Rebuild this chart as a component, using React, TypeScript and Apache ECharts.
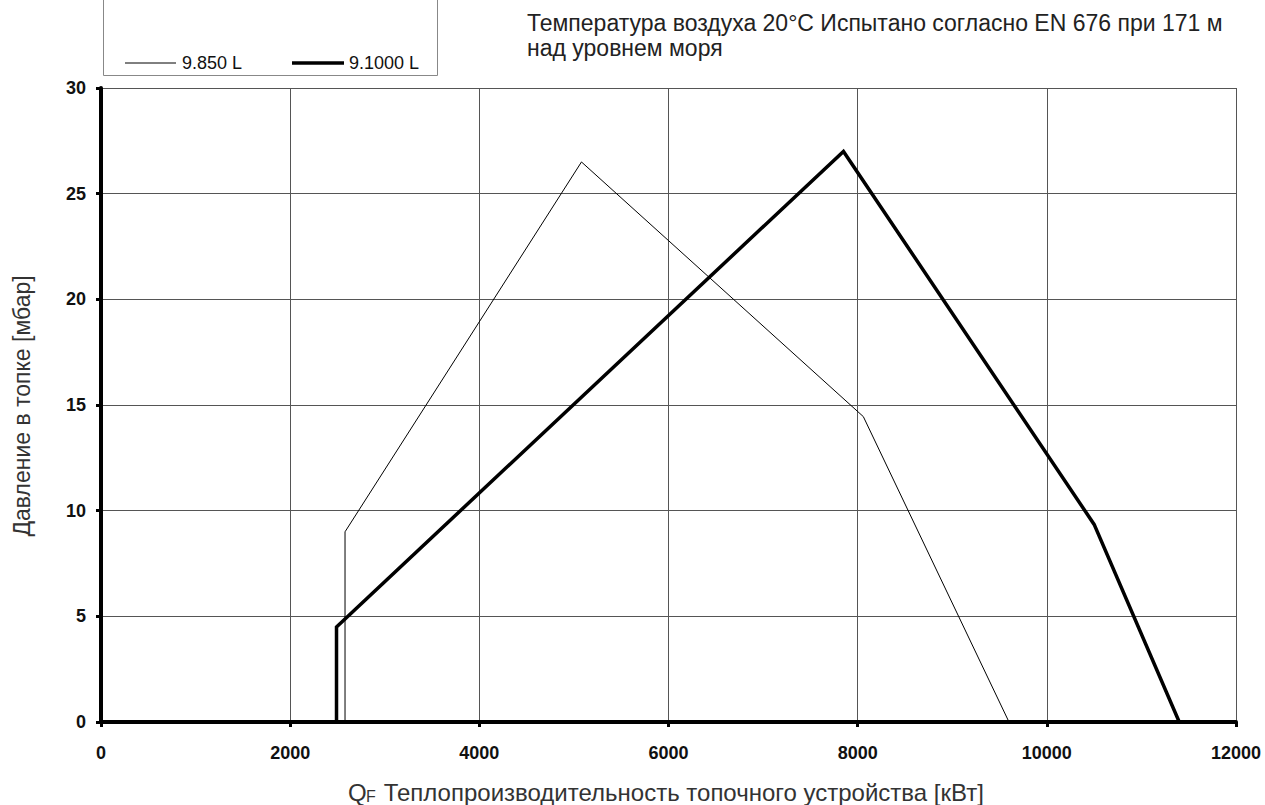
import React, { useEffect, useRef } from "react";
import * as echarts from "echarts";

const seriesNames = ["9.850 L", "9.1000 L"];
const thinX = [2580, 2580, 5080, 8060, 9600];
const thinY = [0, 9.0, 26.5, 14.45, 0];
const thickX = [2490, 2490, 7850, 10500, 11400];
const thickY = [0, 4.5, 27.0, 9.35, 0];
const xTicks = [0, 2000, 4000, 6000, 8000, 10000, 12000];
const yTicks = [0, 5, 10, 15, 20, 25, 30];
const titleLines = [
  "Температура воздуха 20°C Испытано согласно EN 676 при 171 м",
  "над уровнем моря",
];
const yName = "Давление в топке [мбар]";
const xNameMain = "Q";
const xNameSub = "F";
const xNameRest = " Теплопроизводительность топочного устройства [кВт]";

const FONT = "Liberation Sans, Arial, sans-serif";

export default function App() {
  const ref = useRef<HTMLDivElement>(null);
  useEffect(() => {
    if (!ref.current) return;
    const chart = echarts.init(ref.current, null, { renderer: "svg" });
    const pairs = (xs: number[], ys: number[]) => xs.map((x, i) => [x, ys[i]]);
    const txt = (text: string, x: number, y: number, size: number, extra: any = {}) => ({
      type: "text",
      x,
      y,
      silent: true,
      ...extra,
      style: {
        text,
        fill: "#222",
        fontSize: size,
        fontFamily: FONT,
        verticalAlign: "middle",
        align: "left",
        ...(extra.style || {}),
      },
    });
    chart.setOption({
      animation: false,
      backgroundColor: "#ffffff",
      textStyle: { fontFamily: FONT },
      grid: { left: 101, right: 29, top: 88, bottom: 83, containLabel: false },
      xAxis: {
        type: "value",
        min: xTicks[0],
        max: xTicks[xTicks.length - 1],
        interval: 2000,
        axisLine: { onZero: false, lineStyle: { color: "#000", width: 4 } },
        axisTick: { show: true, length: 5, lineStyle: { color: "#000", width: 3 } },
        axisLabel: {
          color: "#111",
          fontWeight: "bold",
          fontSize: 18,
          fontFamily: FONT,
          margin: 22,
          formatter: (v: number) => String(v),
        },
        splitLine: { show: true, lineStyle: { color: "#555", width: 1 } },
      },
      yAxis: {
        type: "value",
        min: yTicks[0],
        max: yTicks[yTicks.length - 1],
        interval: 5,
        axisLine: { show: true, lineStyle: { color: "#000", width: 4 } },
        axisTick: { show: true, length: 5, lineStyle: { color: "#000", width: 3 } },
        axisLabel: {
          color: "#111",
          fontWeight: "bold",
          fontSize: 18,
          fontFamily: FONT,
          margin: 15,
          formatter: (v: number) => String(v),
        },
        splitLine: { show: true, lineStyle: { color: "#555", width: 1 } },
      },
      series: [
        {
          name: seriesNames[0],
          type: "line",
          data: pairs(thinX, thinY),
          symbol: "none",
          lineStyle: { color: "#000", width: 1 },
          z: 3,
        },
        {
          name: seriesNames[1],
          type: "line",
          data: pairs(thickX, thickY),
          symbol: "none",
          lineStyle: { color: "#000", width: 3.5, join: "miter" },
          z: 4,
        },
      ],
      graphic: [
        {
          type: "rect",
          shape: { x: 103.5, y: -10, width: 334, height: 85.5 },
          style: { fill: "none", stroke: "#888", lineWidth: 1 },
          silent: true,
        },
        {
          type: "line",
          shape: { x1: 125, y1: 63, x2: 176, y2: 63 },
          style: { stroke: "#000", lineWidth: 1 },
        },
        txt(seriesNames[0], 182, 63, 18, { style: { fill: "#111" } }),
        {
          type: "line",
          shape: { x1: 292, y1: 63, x2: 344, y2: 63 },
          style: { stroke: "#000", lineWidth: 3.5 },
        },
        txt(seriesNames[1], 349, 63, 18, { style: { fill: "#111" } }),
        txt(titleLines[0], 527, 23, 23),
        txt(titleLines[1], 527, 48, 23),
        txt(xNameMain, 348, 792, 24, { style: { fill: "#333" } }),
        txt(xNameSub, 366, 796, 16, { style: { fill: "#333" } }),
        txt(xNameRest, 377, 792, 24, { style: { fill: "#333" } }),
        txt(yName, 22, 406, 23, {
          rotation: Math.PI / 2,
          style: { fill: "#333", align: "center" },
        }),
      ],
    });
    return () => chart.dispose();
  }, []);
  return (
    <div
      ref={ref}
      style={{ position: "fixed", left: 0, top: 0, width: 1265, height: 805 }}
    />
  );
}
